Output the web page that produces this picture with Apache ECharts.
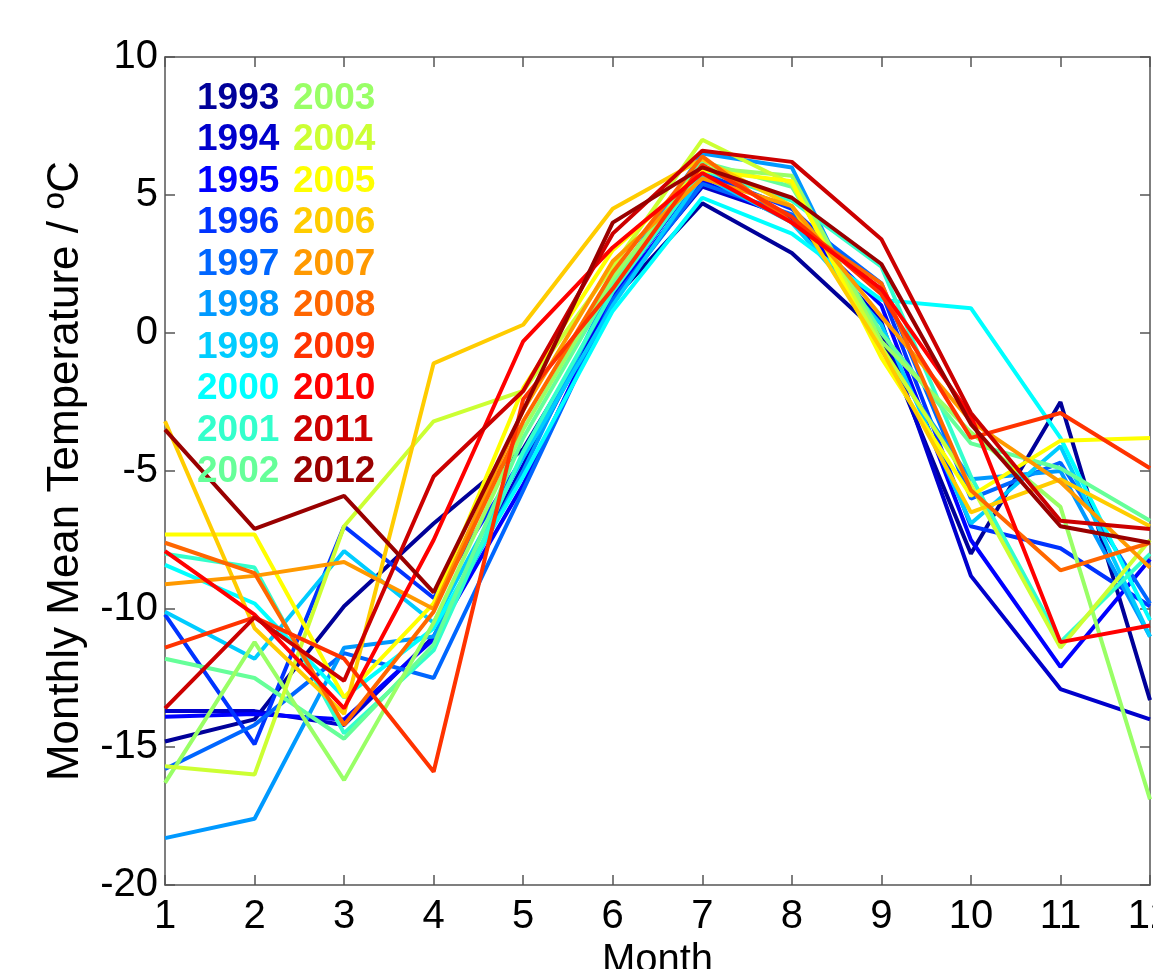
<!DOCTYPE html>
<html>
<head>
<meta charset="utf-8">
<title>Monthly Mean Temperature</title>
<script src="https://cdn.jsdelivr.net/npm/echarts@6/dist/echarts.min.js"></script>
<style>
  html, body { margin: 0; padding: 0; background: #fff; }
  #chart { width: 1153px; height: 969px; }
</style>
</head>
<body>
<div id="chart"></div>
<script>
// 月份 1..12
var months = [1, 2, 3, 4, 5, 6, 7, 8, 9, 10, 11, 12];
var years = ['1993', '1994', '1995', '1996', '1997', '1998', '1999', '2000', '2001', '2002',
             '2003', '2004', '2005', '2006', '2007', '2008', '2009', '2010', '2011', '2012'];
// jet(20)
var colors = ['#000099', '#0000CC', '#0000FF', '#0033FF', '#0066FF', '#0099FF', '#00CCFF', '#00FFFF', '#33FFCC', '#66FF99',
              '#99FF66', '#CCFF33', '#FFFF00', '#FFCC00', '#FF9900', '#FF6600', '#FF3300', '#FF0000', '#CC0000', '#990000'];
var yTicks = [-20, -15, -10, -5, 0, 5, 10];

// 每年的月平均气温
var t1993 = [-14.8, -14.0, -9.9, -6.9, -4.2, 1.2, 4.7, 2.9, -0.1, -8.0, -2.5, -13.3];
var t1994 = [-13.7, -13.7, -14.2, -11.0, -4.8, 1.4, 5.3, 4.2, 0.4, -8.8, -12.9, -14.0];
var t1995 = [-13.9, -13.8, -14.0, -11.1, -5.5, 1.3, 5.5, 4.1, 1.0, -7.5, -12.1, -8.2];
var t1996 = [-10.2, -14.9, -7.0, -9.6, -4.5, 1.5, 5.8, 4.5, 1.5, -7.0, -7.8, -9.9];
var t1997 = [-15.8, -14.2, -11.6, -12.5, -5.7, 1.2, 5.4, 4.3, 1.8, -6.0, -4.7, -9.8];
var t1998 = [-18.3, -17.6, -11.4, -11.0, -5.0, 1.8, 6.5, 6.0, -0.6, -5.3, -5.0, -11.0];
var t1999 = [-10.1, -11.8, -7.9, -10.5, -4.5, 1.0, 5.7, 4.0, 0.3, -6.9, -4.1, -11.0];
var t2000 = [-8.4, -9.8, -13.2, -10.7, -5.2, 0.8, 4.9, 3.6, 1.2, 0.9, -3.8, -10.4];
var t2001 = [-8.0, -8.5, -14.5, -11.5, -4.3, 1.5, 5.9, 4.8, 2.4, -5.2, -11.2, -8.0];
var t2002 = [-11.8, -12.5, -14.7, -11.3, -3.8, 1.8, 6.2, 5.3, 0.0, -4.0, -4.9, -6.8];
var t2003 = [-16.3, -11.2, -16.2, -10.5, -3.5, 2.0, 6.0, 5.7, -0.3, -3.6, -6.3, -16.9];
var t2004 = [-15.7, -16.0, -7.0, -3.2, -2.1, 2.4, 7.0, 5.4, -0.5, -5.5, -11.4, -7.5];
var t2005 = [-7.3, -7.3, -13.2, -9.8, -2.0, 3.0, 5.9, 5.5, -0.9, -5.9, -3.9, -3.8];
var t2006 = [-3.2, -10.7, -13.8, -1.1, 0.3, 4.5, 6.3, 4.6, -0.6, -6.5, -5.3, -7.0];
var t2007 = [-9.1, -8.8, -8.3, -10.0, -2.8, 2.6, 5.6, 4.6, 0.6, -3.2, -5.4, -8.5];
var t2008 = [-7.6, -8.7, -14.2, -10.1, -3.2, 2.2, 6.4, 4.0, 1.8, -5.7, -8.6, -7.6];
var t2009 = [-11.4, -10.3, -11.8, -15.9, -2.4, 1.6, 6.1, 4.2, 1.4, -3.8, -2.9, -4.9];
var t2010 = [-7.9, -10.2, -13.6, -7.5, -0.3, 3.1, 5.8, 4.0, 1.6, -3.0, -11.2, -10.6];
var t2011 = [-13.6, -10.3, -12.6, -5.2, -2.1, 3.6, 6.6, 6.2, 3.4, -2.9, -6.8, -7.1];
var t2012 = [-3.5, -7.1, -5.9, -9.4, -2.8, 4.0, 6.0, 4.9, 2.5, -3.3, -7.0, -7.6];

var temps = [t1993, t1994, t1995, t1996, t1997, t1998, t1999, t2000, t2001, t2002,
             t2003, t2004, t2005, t2006, t2007, t2008, t2009, t2010, t2011, t2012];

var font = '"Liberation Sans", Arial, sans-serif';

var series = years.map(function (y, i) {
  return {
    name: y,
    type: 'line',
    xAxisIndex: 0,
    yAxisIndex: 0,
    symbol: 'none',
    silent: true,
    animation: false,
    lineStyle: { color: colors[i], width: 4 },
    itemStyle: { color: colors[i] },
    data: months.map(function (m, k) { return [m, temps[i][k]]; })
  };
});

function legendCol(from, to, left) {
  return {
    orient: 'vertical',
    left: left,
    top: 75,
    itemWidth: 0,
    itemHeight: 0,
    itemGap: 4,
    selectedMode: false,
    textStyle: { fontSize: 37, fontWeight: 'bold', fontFamily: font, lineHeight: 37.5 },
    data: years.slice(from, to).map(function (y, k) {
      return { name: y, textStyle: { color: colors[from + k] } };
    })
  };
}

var axisLine = { show: true, onZero: false, lineStyle: { color: '#555', width: 1.5 } };
var axisTick = { show: true, inside: true, length: 10, lineStyle: { color: '#555', width: 1.5 } };

var option = {
  backgroundColor: '#fff',
  animation: false,
  legend: [legendCol(0, 10, 186), legendCol(10, 20, 282)],
  grid: { left: 165, right: 3, top: 57, bottom: 84, containLabel: false, outerBoundsMode: 'none' },
  xAxis: [
    {
      type: 'value', min: 1, max: 12, interval: 1, position: 'bottom',
      name: 'Month', nameLocation: 'middle', nameGap: 56, nameMoveOverlap: false,
      nameTextStyle: { fontSize: 40, fontFamily: font, color: '#000' },
      axisLine: axisLine, axisTick: axisTick,
      axisLabel: { fontSize: 40, fontFamily: font, color: '#000', margin: 12 },
      splitLine: { show: false }
    },
    {
      type: 'value', min: 1, max: 12, interval: 1, position: 'top',
      axisLine: axisLine, axisTick: axisTick,
      axisLabel: { show: false }, splitLine: { show: false }
    }
  ],
  yAxis: [
    {
      type: 'value', min: -20, max: 10, interval: 5, position: 'left',
      name: 'Monthly Mean Temperature / ºC', nameLocation: 'middle', nameGap: 77, nameMoveOverlap: false,
      nameTextStyle: { fontSize: 44, fontFamily: font, color: '#000', padding: [14, 0, 0, 0] },
      axisLine: axisLine, axisTick: axisTick,
      axisLabel: {
        fontSize: 40, fontFamily: font, color: '#000', margin: 7,
        formatter: function (v) { return yTicks.indexOf(v) >= 0 ? String(v) : ''; }
      },
      splitLine: { show: false }
    },
    {
      type: 'value', min: -20, max: 10, interval: 5, position: 'right',
      axisLine: axisLine, axisTick: axisTick,
      axisLabel: { show: false }, splitLine: { show: false }
    }
  ],
  series: series
};

var chart = echarts.init(document.getElementById('chart'), null, { renderer: 'canvas' });
chart.setOption(option);
</script>
</body>
</html>
